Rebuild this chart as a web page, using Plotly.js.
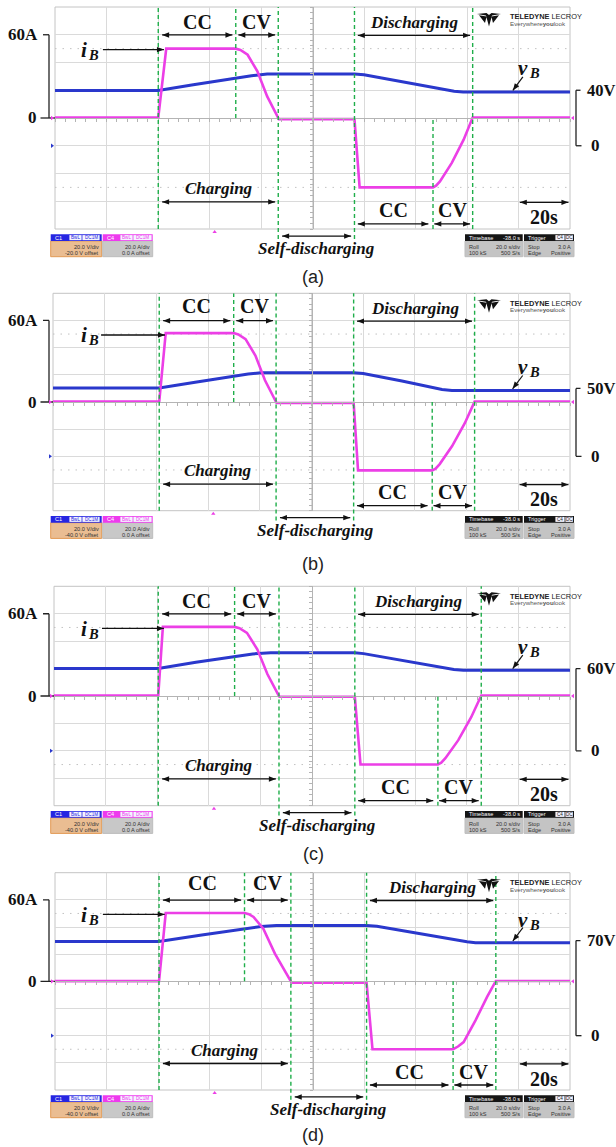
<!DOCTYPE html>
<html>
<head>
<meta charset="utf-8">
<script src="https://cdn.plot.ly/plotly-3.0.1.min.js"></script>
<style>
  html, body { margin: 0; padding: 0; background: #fff; }
  #chart { width: 616px; height: 1147px; }
</style>
</head>
<body>
<div id="chart"></div>
<script>
// ---------------- waveform data (time in s, battery current in A, battery voltage in V) ----------------
const timeCurrentA = [0, 40.1, 43.2, 70.2, 72.0, 74.8, 78.6, 82.4, 86.7, 86.9, 116.3, 118.3, 146.8, 148.0, 149.5, 154.1, 158.7, 162.2, 200];
const currentA     = [0.3, 0.3, 50, 50, 49, 45.6, 33.6, 15.6, 0, -0.8, -0.8, -50, -50, -48.8, -45.7, -32.4, -15.6, 0.4, 0.4];
const timeVoltageA = [0, 40.1, 53.7, 70.2, 76.3, 82.4, 116.3, 120, 137.6, 155, 158.5, 200];
const voltageA     = [39.9, 39.9, 44.0, 48.8, 50.4, 51.7, 51.7, 51.1, 45.2, 39.3, 38.7, 38.7];
const eventsA      = [40.1, 70.2, 86.7, 116.3, 146.8, 162.2];

const timeCurrentB = [0, 41.1, 43.6, 69.9, 71.7, 74.5, 78.3, 82.0, 86.3, 86.5, 116.3, 118.0, 146.7, 148.0, 149.6, 154.4, 159.3, 163.1, 200];
const currentB     = [0.3, 0.3, 50.7, 50.7, 49.7, 46.3, 34.2, 16, 0, -0.7, -0.7, -50.3, -50.3, -49, -45.7, -32.4, -15.6, 0.3, 0.3];
const timeVoltageB = [0, 41.1, 55, 69.9, 75.5, 80.5, 116.3, 120, 135, 150.5, 154.3, 200];
const voltageB     = [50.3, 50.3, 54.6, 59.1, 60.6, 61.5, 61.5, 60.9, 55.5, 49.2, 48.5, 48.5];
const eventsB      = [41.1, 69.9, 86.3, 116.3, 146.7, 163.1];

const timeCurrentC = [0, 40.4, 42.2, 70.0, 71.9, 74.8, 78.8, 82.7, 87.2, 87.4, 116.6, 118.8, 148.8, 150.1, 151.7, 156.7, 161.7, 165.6, 200];
const currentC     = [0.3, 0.3, 50.4, 50.4, 49.4, 46, 34, 16, 0, -0.6, -0.6, -49.9, -49.9, -48.6, -45.4, -32.2, -15.5, 0.4, 0.4];
const timeVoltageC = [0, 40.4, 55, 70.0, 77, 84, 116.6, 120, 137.5, 155, 158.7, 200];
const voltageC     = [60.1, 60.1, 64.6, 69.1, 70.7, 71.5, 71.5, 70.9, 65.2, 59.4, 58.8, 58.8];
const eventsC      = [40.4, 70.0, 87.2, 116.6, 148.8, 165.6];

const timeCurrentD = [0, 40.4, 43.0, 73.6, 75.3, 77.1, 80.9, 85.4, 91.6, 91.8, 121.0, 123.3, 154.6, 156.5, 158.7, 163.3, 167.8, 171.2, 200];
const currentD     = [0.2, 0.2, 50.3, 50.3, 49.5, 47.4, 38.8, 20.4, 0, -1, -1, -50, -50, -48, -44.7, -28.7, -11.5, 0.3, 0.3];
const timeVoltageD = [0, 40.4, 57, 73.6, 80, 86, 121.0, 125, 142, 160, 163.3, 200];
const voltageD     = [69.4, 69.4, 74.2, 78.8, 80.4, 81.2, 81.2, 80.6, 74.8, 69.1, 68.5, 68.5];
const eventsD      = [40.4, 73.6, 91.6, 121.0, 154.6, 171.2];

// scale labels and captions
const currentScaleLabel = 60;               // "60A" marker on the current scale
const voltageScaleLabels = [40, 50, 60, 70]; // "xxV" marker on the voltage scale, per panel
const panelLetters = ['(a)', '(b)', '(c)', '(d)'];
const voltOffsets = ['-20.0 V offset', '-40.0 V offset', '-40.0 V offset', '-40.0 V offset'];
const voltRanges = [[-60, 100], [-40, 120], [-40, 120], [-40, 120]]; // 8 div x 20 V/div, set by the offset
const currentRange = [-80, 80];
const timeRange = [0, 200];
const triggerTime = 62; // trigger position marker under the screen

// ---------------- page geometry ----------------
const W = 616, H = 1147;
const frames = [
  {L: 55, R: 570, T: 7,     B: 229},
  {L: 53, R: 570, T: 293.3, B: 510.7},
  {L: 54, R: 570, T: 586.3, B: 805.7},
  {L: 55, R: 570, T: 872.7, B: 1090}
];
const letterY = [277, 564, 854, 1135];
const topLabelY = [0.932, 0.943, 0.934, 0.951];

const SERIF = '"Liberation Serif", "Times New Roman", Times, serif';
const SANS = '"Liberation Sans", Arial, sans-serif';
const PINK = '#ec3fe6';
const BLUE = '#2a38cc';
const GREEN = '#1fae4a';
const GRID = '#dadada';
const CROSS = '#b4b4b4';
const INK = '#111111';

const currentData = [[timeCurrentA, currentA], [timeCurrentB, currentB], [timeCurrentC, currentC], [timeCurrentD, currentD]];
const voltageData = [[timeVoltageA, voltageA], [timeVoltageB, voltageB], [timeVoltageC, voltageC], [timeVoltageD, voltageD]];
const events = [eventsA, eventsB, eventsC, eventsD];

const px = x => x / W;
const py = y => 1 - y / H;

const traces = [];
const layout = {
  width: W, height: H,
  margin: {l: 0, r: 0, t: 0, b: 0},
  paper_bgcolor: '#ffffff', plot_bgcolor: '#ffffff',
  showlegend: false, hovermode: false, dragmode: false,
  shapes: [], annotations: []
};
const shapes = layout.shapes, anns = layout.annotations;

function label(t, x, xref, y, yref, size, extra) {
  return Object.assign({
    text: t, x: x, xref: xref, y: y, yref: yref, showarrow: false,
    font: {family: SERIF, size: size, color: INK},
    xanchor: 'center', yanchor: 'middle'
  }, extra || {});
}
// symbol with a lowered index letter, e.g. i with subscript B
function symbolWithIndex(sym, idx, xPx, y, yref) {
  anns.push(label('<b><i>' + sym + '</i></b>', px(xPx), 'paper', y, yref, 21, {xanchor: 'right', borderpad: 0}));
  anns.push(label('<b><i>' + idx + '</i></b>', px(xPx - 1.5), 'paper', y, yref, 14.5,
    {xanchor: 'left', yshift: -5, borderpad: 0}));
}
function seg(x0, y0, x1, y1, xref, yref, line) {
  return {type: 'line', x0: x0, y0: y0, x1: x1, y1: y1, xref: xref, yref: yref, line: line, layer: 'above'};
}
function pathPx(f, pts) {
  return pts.map(sub => 'M' + sub.map(p => px(f[0] + p[0]).toFixed(5) + ',' + py(f[1] + p[1]).toFixed(5)).join('L') + 'Z').join(' ');
}
// small filled triangle: pixel offsets (pts) around an anchor given in (xref, yref) units
function marker(ax, ay, xref, yref, sx, sy, pts, color) {
  const P = p => (ax + p[0] / sx) + ',' + (ay - p[1] / sy);
  return {type: 'path', xref: xref, yref: yref, fillcolor: color, line: {width: 0}, layer: 'above',
    path: 'M' + pts.map(P).join('L') + 'Z'};
}

// arrow drawn as a line plus filled heads; sx, sy = pixels per unit along x and y (y up)
const HEAD_LEN = 7, HEAD_HALF = 2.7;
function arrow(x0, y0, x1, y1, xref, yref, sx, sy, both, width) {
  const dxp = (x1 - x0) * sx, dyp = (y1 - y0) * sy;
  const len = Math.hypot(dxp, dyp) || 1;
  const ux = dxp / len, uy = dyp / len;
  const head = (tx, ty, dirx, diry) => {
    const bx = -dirx * HEAD_LEN, by = -diry * HEAD_LEN;
    const nx = -diry * HEAD_HALF, ny = dirx * HEAD_HALF;
    const P = (ox, oy) => (tx + ox / sx) + ',' + (ty + oy / sy);
    return {type: 'path', xref: xref, yref: yref, fillcolor: INK, line: {width: 0}, layer: 'above',
      path: 'M' + P(0, 0) + 'L' + P(bx + nx, by + ny) + 'L' + P(bx - nx, by - ny) + 'Z'};
  };
  shapes.push(seg(x0, y0, x1, y1, xref, yref, {color: INK, width: width || 1.3}));
  shapes.push(head(x1, y1, ux, uy));
  if (both) shapes.push(head(x0, y0, -ux, -uy));
}

frames.forEach((f, i) => {
  const n = i + 1, sfx = n === 1 ? '' : String(n);
  const xId = 'x' + sfx, vId = 'y' + sfx, cId = 'y' + (n + 4);
  const xc = (f.L + f.R) / 2 / W, yc = 1 - (f.T + f.B) / 2 / H;
  const ev = events[i];
  const yP = frac => py(f.B - frac * (f.B - f.T));
  // pixel scales of this screen, for sizing the arrow heads and markers
  const sxT = (f.R - f.L) / (timeRange[1] - timeRange[0]);
  const syPaper = H;
  const syV = (f.B - f.T) / (voltRanges[i][1] - voltRanges[i][0]);
  const syI = (f.B - f.T) / (currentRange[1] - currentRange[0]);

  // time axis: 10 div x 20 s/div, drawn through the screen centre with small division ticks
  layout['xaxis' + sfx] = {
    domain: [px(f.L), px(f.R)], range: timeRange, anchor: 'free', position: yc,
    showgrid: true, gridcolor: GRID, gridwidth: 1, tick0: 0, dtick: 20,
    showline: true, linecolor: CROSS, linewidth: 1,
    ticks: 'outside', ticklen: 3, tickcolor: CROSS, tickwidth: 1,
    minor: {dtick: 4, ticks: 'outside', ticklen: 3, tickcolor: CROSS, showgrid: false},
    showticklabels: false, zeroline: false, fixedrange: true
  };
  // voltage channel (C1): 20 V/div
  layout['yaxis' + sfx] = {
    domain: [py(f.B), py(f.T)], range: voltRanges[i], anchor: 'free', position: xc,
    showgrid: true, gridcolor: GRID, gridwidth: 1, tick0: 0, dtick: 20,
    showline: true, linecolor: CROSS, linewidth: 1,
    ticks: 'outside', ticklen: 3, tickcolor: CROSS, tickwidth: 1,
    minor: {dtick: 4, ticks: 'outside', ticklen: 3, tickcolor: CROSS, showgrid: false},
    showticklabels: false, zeroline: false, fixedrange: true
  };
  // current channel (C4): 20 A/div, 0 A offset
  layout['yaxis' + (n + 4)] = {
    overlaying: vId, anchor: xId, range: currentRange, visible: false, fixedrange: true
  };

  traces.push({
    type: 'scatter', mode: 'lines', x: voltageData[i][0], y: voltageData[i][1],
    xaxis: xId, yaxis: vId, line: {color: BLUE, width: 3}, hoverinfo: 'skip'
  });
  traces.push({
    type: 'scatter', mode: 'lines', x: currentData[i][0], y: currentData[i][1],
    xaxis: xId, yaxis: cId, line: {color: PINK, width: 2.6}, hoverinfo: 'skip'
  });

  // screen frame
  shapes.push({type: 'rect', xref: xId + ' domain', yref: vId + ' domain', x0: 0, x1: 1, y0: 0, y1: 1,
    line: {color: '#c4c4c4', width: 1}, layer: 'below'});
  // faint dotted reference rows
  [50, -50].forEach(lv => shapes.push({type: 'line', xref: xId + ' domain', yref: cId, x0: 0, x1: 1, y0: lv, y1: lv,
    line: {color: '#c2c2c2', width: 1, dash: '1.5px,6px'}, layer: 'below'}));

  // phase boundaries
  const DASH = {color: GREEN, width: 1.4, dash: '4px,3px'};
  [ev[0], ev[5]].forEach(t => shapes.push(seg(t, 0, t, 1, xId, vId + ' domain', DASH)));
  [ev[2], ev[3]].forEach(t => shapes.push(seg(t, -0.045, t, 1, xId, vId + ' domain', DASH)));
  shapes.push(seg(ev[1], 0, ev[1], 80, xId, cId, DASH));
  shapes.push(seg(ev[4], -80, ev[4], 0, xId, cId, DASH));

  // phase captions and spans
  const topCC = [ev[0] + 1.5, ev[1] - 1.3], topCV = [ev[1] + 1, ev[2] - 1.2];
  const dis = [ev[3] + 1.3, ev[5] - 1], chg = [ev[0] + 1.5, ev[2] - 1.2];
  const botCC = [ev[3] + 1.3, ev[4] - 1.8], botCV = [ev[4] + 0.5, ev[5] - 1];
  const self = [ev[2] + 1.5, ev[3] - 1.3], scale = [180.5, 199.4];
  const mid = s => (s[0] + s[1]) / 2;
  const span = (s, yy) => arrow(s[0], yy, s[1], yy, xId, 'paper', sxT, syPaper, true);

  anns.push(label('<b>CC</b>', mid(topCC), xId, yP(topLabelY[i]), 'paper', 20));
  anns.push(label('<b>CV</b>', mid(topCV), xId, yP(topLabelY[i]), 'paper', 20));
  span(topCC, yP(0.874));
  span(topCV, yP(0.874));
  anns.push(label('<b><i>Discharging</i></b>', mid(dis), xId, yP(0.93), 'paper', 17));
  span(dis, yP(0.872));
  anns.push(label('<b><i>Charging</i></b>', mid(chg), xId, yP(0.183), 'paper', 17));
  span(chg, yP(0.122));
  anns.push(label('<b>CC</b>', mid(botCC), xId, yP(0.085), 'paper', 20));
  anns.push(label('<b>CV</b>', mid(botCV), xId, yP(0.085), 'paper', 20));
  span(botCC, yP(0.023));
  span(botCV, yP(0.023));
  anns.push(label('<b>20s</b>', mid(scale), xId, yP(0.052), 'paper', 20));
  span(scale, yP(0.12));
  anns.push(label('<b><i>Self-discharging</i></b>', mid(self), xId, yP(-0.09), 'paper', 17));
  span(self, yP(-0.032));

  // trace names with pointers
  symbolWithIndex('i', 'B', 88.3, 49, cId);
  arrow(18.6, 49.3, ev[0] + 2.2, 49.3, xId, cId, sxT, syI, false);
  const vEnd = voltageData[i][1][voltageData[i][1].length - 1];
  symbolWithIndex('v', 'B', 529.2, vEnd + 17, vId);
  arrow(181.7, vEnd + 11, 177.8, vEnd + 1.2, xId, vId, sxT, syV, false, 1.2);

  // current scale bracket (left)
  const BR = {color: '#222', width: 1.3};
  shapes.push(seg(px(49), 0, px(49), currentScaleLabel, 'paper', cId, BR));
  shapes.push(seg(px(43), currentScaleLabel, px(49), currentScaleLabel, 'paper', cId, BR));
  shapes.push(seg(px(40.5), 0, px(f.L), 0, 'paper', cId, BR));
  anns.push(label('<b>' + currentScaleLabel + 'A</b>', px(39.8), 'paper', currentScaleLabel, cId, 17, {xanchor: 'right'}));
  anns.push(label('<b>0</b>', px(38.6), 'paper', 0, cId, 17, {xanchor: 'right'}));

  // voltage scale bracket (right)
  const vl = voltageScaleLabels[i];
  shapes.push(seg(px(576), 0, px(576), vl, 'paper', vId, BR));
  shapes.push(seg(px(576), vl, px(580.5), vl, 'paper', vId, BR));
  shapes.push(seg(px(576), 0, px(581.5), 0, 'paper', vId, BR));
  anns.push(label('<b>' + vl + 'V</b>', px(584.5), 'paper', vl, vId, 16.5, {xanchor: 'left'}));
  anns.push(label('<b>0</b>', px(588.5), 'paper', 0, vId, 17, {xanchor: 'left'}));

  // channel ground markers on the screen edges and the trigger position marker
  shapes.push(marker(px(f.L - 1), 0, 'paper', cId, W, syI, [[-3, -2.2], [0, 0], [-3, 2.2]], PINK));
  shapes.push(marker(px(f.L - 1), 0, 'paper', vId, W, syV, [[-3, -2.2], [0, 0], [-3, 2.2]], BLUE));
  shapes.push(marker(px(f.R + 1), 0, 'paper', cId, W, syI, [[3, -2.2], [0, 0], [3, 2.2]], PINK));
  shapes.push(marker(triggerTime, py(f.B + 1), xId, 'paper', sxT, H, [[-2.2, 3], [0, 0], [2.2, 3]], PINK));

  // scope brand
  shapes.push({type: 'path', xref: 'paper', yref: 'paper', fillcolor: INK, line: {width: 0},
    path: pathPx([477, f.T + 6], [
      [[0, 1], [9, 2.5], [12, 13.5], [15, 2.5], [24, 1], [14.5, 0], [12, 2], [9.5, 0]],
      [[2, 2.2], [8, 10], [9.6, 3.4]],
      [[22, 2.2], [16, 10], [14.4, 3.4]]
    ])});
  anns.push(label('<b>TELEDYNE</b> LECROY', px(507.5), 'paper', py(f.T + 9.8), 'paper', 7.4,
    {xanchor: 'left', font: {family: SANS, size: 7.4, color: '#222'}}));
  anns.push(label('Everywhere<b>you</b>look', px(507.8), 'paper', py(f.T + 16.6), 'paper', 6.2,
    {xanchor: 'left', font: {family: SANS, size: 6.2, color: '#555'}}));

  // status boxes under the screen
  const top = f.B + 5.3, hb = f.B + 12, bot = f.B + 27.7;
  const r1 = f.B + 18.3, r2 = f.B + 24.2;
  const boxes = [
    {x0: 50.7, x1: 101.7, head: '#2626e2', body: '#eabd92', edge: '#e29a55', title: 'C1', tagColor: '#2626e2',
      tags: [[18.3, 31.3, 'BwL'], [31.3, 49.3, 'DC1M']], rows: [['', '20.0 V/div'], ['', voltOffsets[i]]]},
    {x0: 102.7, x1: 152.7, head: '#ee3aee', body: '#c8c8c8', edge: '#bdbdbd', title: 'C4', tagColor: '#ee3aee',
      tags: [[17.3, 30.3, 'BwL'], [30.3, 49.3, 'DC1M']], rows: [['', '20.0 A/div'], ['', '0.0 A offset']]},
    {x0: 465, x1: 522.7, head: '#151515', body: '#c4c4c4', edge: '#bdbdbd', title: 'Timebase', headRight: '-38.0 s',
      tags: [], rows: [['Roll', '20.0 s/div'], ['100 kS', '500 S/s']]},
    {x0: 524, x1: 574, head: '#151515', body: '#c4c4c4', edge: '#bdbdbd', title: 'Trigger', tagColor: '#151515',
      tags: [[31, 41, 'C4'], [41, 49.3, 'DC']], rows: [['Stop', '3.0 A'], ['Edge', 'Positive']]}
  ];
  boxes.forEach(b => {
    shapes.push({type: 'rect', xref: 'paper', yref: 'paper', x0: px(b.x0), x1: px(b.x1), y0: py(bot), y1: py(hb),
      fillcolor: b.body, line: {color: b.edge, width: 1}});
    shapes.push({type: 'rect', xref: 'paper', yref: 'paper', x0: px(b.x0), x1: px(b.x1), y0: py(hb), y1: py(top),
      fillcolor: b.head, line: {width: 0}});
    anns.push(label(b.title, px(b.x0 + 2), 'paper', py((top + hb) / 2), 'paper', 5.6,
      {xanchor: 'left', font: {family: SANS, size: 5.6, color: '#ffffff'}}));
    if (b.headRight) anns.push(label(b.headRight, px(b.x1 - 1), 'paper', py((top + hb) / 2), 'paper', 5.6,
      {xanchor: 'right', font: {family: SANS, size: 5.6, color: '#ffffff'}}));
    b.tags.forEach(tg => {
      shapes.push({type: 'rect', xref: 'paper', yref: 'paper', x0: px(b.x0 + tg[0] + 0.4), x1: px(b.x0 + tg[1] - 0.4),
        y0: py(hb - 0.8), y1: py(top + 0.8), fillcolor: '#f4f4ff', line: {width: 0}});
      anns.push(label(tg[2], px(b.x0 + (tg[0] + tg[1]) / 2), 'paper', py((top + hb) / 2), 'paper', 4.6,
        {font: {family: SANS, size: 4.6, color: b.tagColor}}));
    });
    [[b.rows[0], r1], [b.rows[1], r2]].forEach(rw => {
      if (rw[0][0]) anns.push(label(rw[0][0], px(b.x0 + 1.5), 'paper', py(rw[1]), 'paper', 5.6,
        {xanchor: 'left', font: {family: SANS, size: 5.6, color: '#333'}}));
      anns.push(label(rw[0][1], px(b.x1 - 1.2), 'paper', py(rw[1]), 'paper', 5.6,
        {xanchor: 'right', font: {family: SANS, size: 5.6, color: '#333'}}));
    });
  });

  // panel caption
  anns.push(label(panelLetters[i], px(313), 'paper', py(letterY[i]), 'paper', 18,
    {font: {family: SANS, size: 18, color: '#222'}}));
});

Plotly.newPlot('chart', traces, layout, {staticPlot: true, displayModeBar: false});
</script>
</body>
</html>
